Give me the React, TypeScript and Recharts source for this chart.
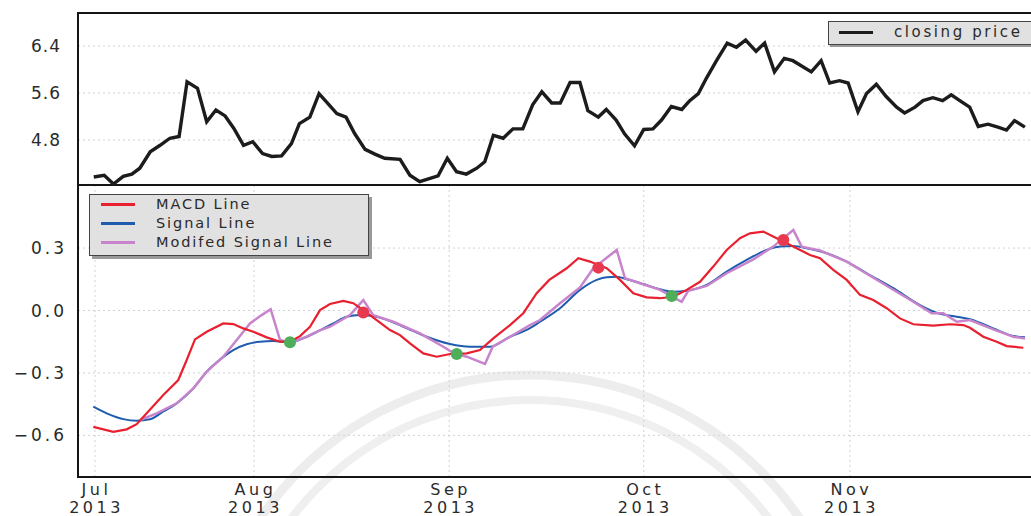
import React from 'react';
import { LineChart, Line, XAxis, YAxis, CartesianGrid, ReferenceArea } from 'recharts';

// x unit: session position, Jul 2013 = 0
const monthTicks = [0, 25.9, 57.7, 89.4, 123];
const monthLabels = ['Jul', 'Aug', 'Sep', 'Oct', 'Nov'];
const xDomain: [number, number] = [-2.77, 153.96];

const priceDays = [
  -0.2, 1.5, 3.0, 4.6, 6.0, 7.3, 9.0, 10.6, 12.2, 13.7,
  15.0, 16.7, 18.2, 19.7, 21.2, 22.6, 24.2, 25.7, 27.3, 28.8,
  30.4, 32.0, 33.3, 35.0, 36.5, 37.7, 39.4, 40.9, 42.3, 44.0,
  45.6, 47.2, 49.7, 51.3, 52.9, 55.9, 57.4, 58.9, 60.5, 62.2,
  63.5, 64.9, 66.5, 68.1, 69.7, 71.3, 72.8, 74.4, 75.8, 77.4,
  79.0, 80.3, 82.0, 83.3, 84.9, 86.3, 87.9, 89.4, 90.9, 92.3,
  93.9, 95.6, 96.9, 98.3, 99.6, 101.3, 103.0, 104.5, 106.0, 107.7,
  109.1, 110.7, 112.3, 113.7, 116.7, 118.3, 119.7, 121.3, 122.7, 124.3,
  125.7, 127.3, 128.9, 130.6, 131.9, 133.6, 134.9, 136.5, 138.1, 139.5,
  141.2, 142.5, 143.9, 145.5, 147.1, 148.5, 149.8, 151.5,
];
const closingPrice = [
  4.17, 4.2, 4.05, 4.18, 4.22, 4.32, 4.6, 4.71, 4.83, 4.86,
  5.79, 5.68, 5.11, 5.31, 5.21, 5.0, 4.71, 4.77, 4.57, 4.52,
  4.53, 4.74, 5.08, 5.19, 5.59, 5.45, 5.25, 5.19, 4.91, 4.64,
  4.56, 4.49, 4.47, 4.2, 4.09, 4.19, 4.49, 4.26, 4.22, 4.32,
  4.43, 4.88, 4.83, 4.99, 4.99, 5.4, 5.62, 5.43, 5.43, 5.78,
  5.78, 5.3, 5.19, 5.32, 5.14, 4.9, 4.7, 4.98, 4.99, 5.14,
  5.37, 5.32, 5.47, 5.59, 5.85, 6.16, 6.45, 6.38, 6.5, 6.31,
  6.45, 5.96, 6.19, 6.15, 5.96, 6.15, 5.77, 5.81, 5.77, 5.28,
  5.59, 5.75, 5.54, 5.36, 5.26, 5.36, 5.47, 5.52, 5.47, 5.57,
  5.45, 5.36, 5.03, 5.07, 5.02, 4.97, 5.13, 5.02,
];

const macdDays = [
  -0.28, 2.98, 5.16, 6.79, 8.42, 11.13, 13.57, 14.94, 16.29, 18.2,
  20.9, 22.53, 24.16, 25.79, 27.97, 30.14, 31.77, 33.4, 35.03, 36.66,
  38.29, 40.45, 42.08, 43.71, 45.89, 48.06, 49.69, 51.32, 53.49, 55.67,
  57.84, 60.56, 62.72, 64.89, 67.61, 69.78, 71.96, 74.01, 76.85, 78.74,
  80.64, 83.37, 85.53, 87.7, 89.88, 92.05, 94.22, 96.4, 98.57, 100.73,
  102.92, 105.08, 106.71, 108.88, 111.06, 114.32, 116.49, 118.12, 120.28, 122.47,
  124.63, 126.8, 128.98, 131.15, 133.32, 136.57, 139.3, 141.46, 142.55, 144.72,
  146.91, 148.53, 151.24,
];
const macdValues = [
  -0.559, -0.583, -0.571, -0.546, -0.494, -0.406, -0.334, -0.238, -0.139, -0.102,
  -0.062, -0.065, -0.086, -0.102, -0.129, -0.15, -0.15, -0.123, -0.078, 0.002,
  0.031, 0.046, 0.035, 0.002, -0.046, -0.094, -0.118, -0.158, -0.206, -0.222,
  -0.209, -0.206, -0.19, -0.134, -0.07, -0.013, 0.083, 0.147, 0.203, 0.251,
  0.235, 0.203, 0.147, 0.083, 0.063, 0.059, 0.066, 0.099, 0.138, 0.211,
  0.291, 0.347, 0.371, 0.379, 0.347, 0.299, 0.267, 0.251, 0.195, 0.147,
  0.075, 0.05, 0.011, -0.038, -0.066, -0.073, -0.066, -0.07, -0.083, -0.126,
  -0.15, -0.171, -0.179,
];

const signalDays = [
  -0.28, 1.91, 4.61, 6.79, 8.96, 11.13, 13.31, 16.02, 18.2, 20.37,
  22.53, 24.71, 26.88, 29.05, 31.77, 34.49, 36.66, 38.82, 41.01, 43.17,
  45.89, 50.23, 54.04, 57.84, 61.1, 64.35, 67.61, 70.87, 72.5, 75.76,
  79.02, 81.74, 83.37, 85.0, 86.63, 89.33, 92.05, 94.22, 96.4, 99.66,
  102.92, 106.17, 109.43, 111.6, 113.77, 115.95, 119.21, 122.47, 125.73, 130.06,
  134.41, 137.13, 140.39, 142.56, 146.35, 149.61, 151.52,
];
const signalValues = [
  -0.462, -0.494, -0.522, -0.53, -0.523, -0.485, -0.446, -0.374, -0.294, -0.236,
  -0.19, -0.162, -0.15, -0.147, -0.153, -0.126, -0.095, -0.062, -0.03, -0.022,
  -0.03, -0.078, -0.126, -0.161, -0.174, -0.174, -0.126, -0.085, -0.054, 0.011,
  0.099, 0.147, 0.16, 0.162, 0.15, 0.127, 0.102, 0.09, 0.095, 0.123,
  0.187, 0.243, 0.291, 0.307, 0.31, 0.299, 0.275, 0.235, 0.179, 0.107,
  0.026, -0.011, -0.03, -0.042, -0.086, -0.123, -0.129,
];

const modifiedDays = [
  7.33, 10.05, 13.31, 16.02, 18.2, 20.9, 23.09, 25.25, 27.16, 28.62,
  30.14, 31.77, 34.49, 36.54, 38.29, 41.54, 43.71, 45.34, 48.6, 52.95,
  56.75, 58.37, 60.56, 63.54, 64.79, 67.61, 70.87, 72.5, 75.76, 79.02,
  81.18, 85.0, 86.35, 88.79, 92.05, 95.58, 96.66, 99.66, 102.92, 107.25,
  110.51, 113.77, 115.14, 118.12, 122.47, 127.89, 133.32, 136.32, 138.21, 140.39,
  142.56, 146.35, 149.61, 151.52,
];
const modifiedValues = [
  -0.526, -0.494, -0.446, -0.374, -0.294, -0.222, -0.142, -0.062, -0.022, 0.006,
  -0.142, -0.155, -0.126, -0.097, -0.078, -0.022, 0.05, -0.022, -0.054, -0.11,
  -0.174, -0.203, -0.222, -0.257, -0.174, -0.126, -0.07, -0.046, 0.035, 0.111,
  0.203, 0.291, 0.155, 0.131, 0.099, 0.042, 0.095, 0.118, 0.179, 0.246,
  0.307, 0.387, 0.307, 0.288, 0.235, 0.138, 0.042, -0.013, -0.013, -0.054,
  -0.046, -0.091, -0.126, -0.134,
];

const buyDays = [31.77, 58.93, 93.96];
const buyValues = [-0.152, -0.209, 0.07];
const sellDays = [43.71, 82.0, 112.14];
const sellValues = [-0.01, 0.206, 0.339];

const zip = (xs: number[], ys: number[]) => xs.map((x, i) => ({ x, y: ys[i] }));
const priceData = zip(priceDays, closingPrice);
const macdData = zip(macdDays, macdValues);
const signalData = zip(signalDays, signalValues);
const modifiedData = zip(modifiedDays, modifiedValues);
const buyData = zip(buyDays, buyValues);
const sellData = zip(sellDays, sellValues);

const priceDomain: [number, number] = [4.034, 6.962];
const macdDomain: [number, number] = [-0.8, 0.603];

const FONT = '"DejaVu Sans", Verdana, sans-serif';
const TEXT = '#2a2a2a';
const GRID = '#cdd1dc';

const fmtMinus = (v: number) => (v < 0 ? '\u2212' : '') + Math.abs(v).toFixed(1);

const MonthTick = ({ x, y, payload }: any) => {
  const i = monthTicks.indexOf(payload.value);
  return (
    <g>
      <text x={x + 1.5} y={y + 17.5} textAnchor="middle" fill={TEXT} fontSize={16} fontFamily={FONT} letterSpacing={3.5}>
        {monthLabels[i]}
      </text>
      <text x={x + 1.5} y={y + 36} textAnchor="middle" fill={TEXT} fontSize={16} fontFamily={FONT} letterSpacing={3.5}>
        2013
      </text>
    </g>
  );
};

const legendLine = (color: string, top: number, left: number) => (
  <div style={{ position: 'absolute', left, top: top - 1.5, width: 34, height: 3, background: color }} />
);

export default function App() {
  return (
    <div style={{ position: 'fixed', left: 0, top: 0, width: 1031, height: 516, overflow: 'hidden', background: '#fff' }}>
      {/* faint watermark arcs behind the plot */}
      <svg width={1031} height={516} style={{ position: 'absolute', left: 0, top: 0 }}>
        <circle cx={530} cy={700} r={325} fill="none" stroke="#ededed" strokeWidth={9} />
        <circle cx={530} cy={700} r={300} fill="none" stroke="#efefef" strokeWidth={8} />
      </svg>

      <div style={{ position: 'absolute', left: 0, top: 0 }}>
        <LineChart width={1060} height={190} margin={{ top: 13, right: 20, bottom: 5, left: 0 }}>
          <CartesianGrid stroke={GRID} strokeDasharray="2 3" />
          <XAxis
            type="number"
            dataKey="x"
            domain={xDomain}
            ticks={monthTicks}
            allowDataOverflow
            tick={false}
            tickLine={false}
            axisLine={false}
            height={0}
          />
          <YAxis
            type="number"
            domain={priceDomain}
            ticks={[4.8, 5.6, 6.4]}
            allowDataOverflow
            width={78}
            tickSize={0}
            tickMargin={17}
            axisLine={false}
            tickFormatter={(v: number) => v.toFixed(1)}
            tick={{ fill: TEXT, fontSize: 17, fontFamily: FONT, letterSpacing: 1 }}
          />
          <ReferenceArea x1={xDomain[0]} x2={xDomain[1]} y1={priceDomain[0]} y2={priceDomain[1]} fill="none" stroke="#151515" strokeWidth={2} />
          <Line data={priceData} dataKey="y" type="linear" stroke="#1c1c1c" strokeWidth={3.4} dot={false} isAnimationActive={false} name="closing price" />
        </LineChart>
      </div>

      <div style={{ position: 'absolute', left: 0, top: 185 }}>
        <LineChart width={1060} height={331} margin={{ top: 0, right: 20, bottom: 0, left: 0 }}>
          <CartesianGrid stroke={GRID} strokeDasharray="2 3" />
          <XAxis
            type="number"
            dataKey="x"
            domain={xDomain}
            ticks={monthTicks}
            allowDataOverflow
            height={39}
            tickSize={0}
            tickMargin={0}
            axisLine={false}
            tick={<MonthTick />}
          />
          <YAxis
            type="number"
            domain={macdDomain}
            ticks={[-0.6, -0.3, 0, 0.3]}
            allowDataOverflow
            width={78}
            tickSize={0}
            tickMargin={11}
            axisLine={false}
            tickFormatter={fmtMinus}
            tick={{ fill: TEXT, fontSize: 17, fontFamily: FONT, letterSpacing: 3 }}
          />
          <ReferenceArea x1={xDomain[0]} x2={xDomain[1]} y1={macdDomain[0]} y2={macdDomain[1]} fill="none" stroke="#151515" strokeWidth={2} />
          <Line data={signalData} dataKey="y" type="monotone" stroke="#1f5cae" strokeWidth={2} dot={false} isAnimationActive={false} name="Signal Line" />
          <Line data={modifiedData} dataKey="y" type="linear" stroke="#c784cc" strokeWidth={2.5} dot={false} isAnimationActive={false} name="Modifed Signal Line" />
          <Line data={macdData} dataKey="y" type="linear" stroke="#e8202f" strokeWidth={2.2} dot={false} isAnimationActive={false} name="MACD Line" />
          <Line data={buyData} dataKey="y" stroke="none" dot={{ r: 6, fill: '#4fae5a', stroke: 'none' }} isAnimationActive={false} legendType="none" />
          <Line data={sellData} dataKey="y" stroke="none" dot={{ r: 6, fill: '#e8394e', stroke: 'none' }} isAnimationActive={false} legendType="none" />
        </LineChart>
      </div>

      {/* legend, top panel */}
      <div style={{ position: 'absolute', left: 828, top: 21, width: 240, height: 22, background: '#e1e1e1', border: '1px solid #444', boxShadow: '2px 2px 0 #999', fontFamily: FONT }}>
        {legendLine('#1c1c1c', 10, 10)}
        <div style={{ position: 'absolute', left: 65, top: 1, fontSize: 15, letterSpacing: 2.6, color: TEXT, whiteSpace: 'nowrap' }}>closing price</div>
      </div>

      {/* legend, bottom panel */}
      <div style={{ position: 'absolute', left: 89, top: 194, width: 278, height: 60, background: '#e1e1e1', border: '1px solid #444', boxShadow: '3px 3px 0 #999', fontFamily: FONT }}>
        {legendLine('#e8202f', 9, 11)}
        {legendLine('#1f5cae', 28, 11)}
        {legendLine('#c784cc', 47, 11)}
        {['MACD Line', 'Signal Line', 'Modifed Signal Line'].map((t, i) => (
          <div key={t} style={{ position: 'absolute', left: 66, top: i * 19, fontSize: 14.5, letterSpacing: 1.9, color: TEXT, whiteSpace: 'nowrap', lineHeight: '18px' }}>{t}</div>
        ))}
      </div>
    </div>
  );
}
